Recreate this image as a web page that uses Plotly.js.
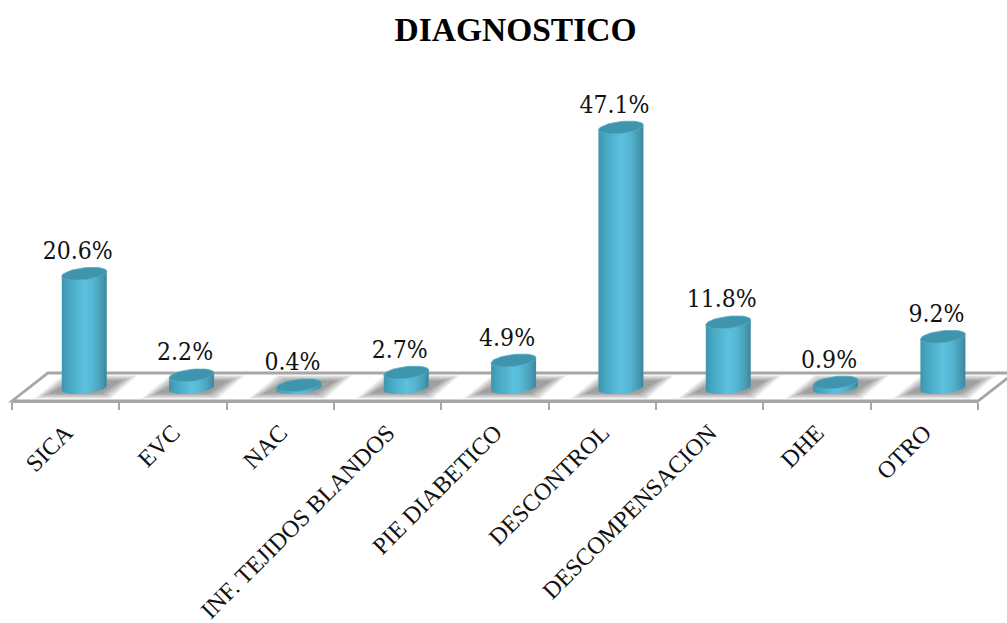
<!DOCTYPE html>
<html>
<head>
<meta charset="utf-8">
<script src="https://cdn.plot.ly/plotly-3.0.1.min.js"></script>
<style>html,body{margin:0;padding:0;background:#fff}#chart{width:1007px;height:623px}</style>
</head>
<body>
<div id="chart"></div>
<script>
// Diagnosis shares, in percent
const categories = ["SICA", "EVC", "NAC", "INF. TEJIDOS BLANDOS", "PIE DIABETICO",
                    "DESCONTROL", "DESCOMPENSACION", "DHE", "OTRO"];
const percentages = [20.6, 2.2, 0.4, 2.7, 4.9, 47.1, 11.8, 0.9, 9.2];

// Frame geometry in pixels
const W = 1007, H = 623;
const plotLeft = 12, plotRight = 978, plotTop = 60, plotBottom = 401;
const floorBackY = 373, floorDepth = 36;
const pxPerCat = (plotRight - plotLeft) / categories.length;
const pxPerUnit = 5.52;
const baseY = 387.5;                 // pixel height of value 0, mid-way across the floor
const depthShift = 18.6 / pxPerCat;  // columns stand in the middle of the floor's depth

// Cylinder geometry in pixels
const radius = 22.5, rimHalfHeight = 6, rimTilt = 0.11;
const bandCount = 23, bandOverlap = 1;
const bandWidth = 2 * radius / bandCount;

// Horizontal shading of the cylinder wall
const shadeStops = [[0, [62, 148, 172]], [0.14, [70, 166, 192]], [0.5, [92, 193, 222]],
                    [0.7, [84, 182, 210]], [0.9, [70, 153, 175]], [1, [60, 136, 158]]];

function shade(t) {
  for (let s = 1; s < shadeStops.length; s++) {
    if (t <= shadeStops[s][0]) {
      const [t0, c0] = shadeStops[s - 1], [t1, c1] = shadeStops[s];
      const f = (t - t0) / (t1 - t0);
      const rgb = c0.map((c, j) => Math.round(c + (c1[j] - c) * f));
      return `rgb(${rgb.join(",")})`;
    }
  }
  return "rgb(60,136,158)";
}

const positions = categories.map((_, i) => i);
const traces = [];

// Cylinder walls: one narrow bar per shading band, each lapping slightly over the last
for (let k = 0; k < bandCount; k++) {
  const dx = -radius + (k + 0.5) * bandWidth;
  const arc = rimHalfHeight * Math.sqrt(Math.max(0, 1 - (dx / radius) ** 2));
  const lowEdge = (rimTilt * dx - arc) / pxPerUnit;
  const extra = k < bandCount - 1 ? bandOverlap : 0;
  traces.push({
    type: "bar",
    x: positions,
    y: percentages.map(v => v + arc / pxPerUnit),
    base: percentages.map(() => lowEdge),
    width: (bandWidth + extra) / pxPerCat,
    offset: depthShift + (dx - bandWidth / 2) / pxPerCat,
    marker: { color: shade((k + 0.5) / bandCount), line: { width: 0 } },
    hoverinfo: "skip",
    showlegend: false
  });
}

// Cylinder tops
const capX = [], capY = [];
percentages.forEach((v, i) => {
  for (let a = 0; a <= 48; a++) {
    const t = a / 48 * 2 * Math.PI;
    const dx = radius * Math.cos(t);
    capX.push(i + depthShift + dx / pxPerCat);
    capY.push(v + (rimTilt * dx + rimHalfHeight * Math.sin(t)) / pxPerUnit);
  }
  capX.push(null);
  capY.push(null);
});
traces.push({
  type: "scatter", mode: "lines", x: capX, y: capY, fill: "toself",
  fillcolor: "#3f95ad", line: { color: "#57aec6", width: 0.8 },
  hoverinfo: "skip", showlegend: false
});

// Value labels above each column
traces.push({
  type: "scatter", mode: "text",
  x: positions.map(i => i + depthShift - 6.5 / pxPerCat),
  y: percentages.map(v => v + 21 / pxPerUnit),
  text: percentages.map(v => v.toFixed(1) + "%"),
  textposition: "middle center",
  textfont: { family: "DejaVu Serif Condensed, DejaVu Serif", size: 24.5, color: "#111" },
  cliponaxis: false, hoverinfo: "skip", showlegend: false
});

// Pixel helpers for the floor, which belongs to the frame and not to the data
const paperX = px => (px - plotLeft) / (plotRight - plotLeft);
const paperY = py => (plotBottom - py) / (plotBottom - plotTop);
const polygon = pts => "M" + pts.map(p => paperX(p[0]) + "," + paperY(p[1])).join("L") + "Z";

const shapes = [{
  type: "path", xref: "paper", yref: "paper", layer: "below",
  path: polygon([[plotLeft, plotBottom], [plotLeft + floorDepth, floorBackY],
                 [plotRight + floorDepth, floorBackY], [plotRight, plotBottom]]),
  fillcolor: "#ffffff", line: { color: "#a6a6a6", width: 2.8 }
}];

// Soft floor shadows, built from nested translucent parallelograms
const shadowLayers = 14;
positions.forEach(i => {
  const cx = plotLeft + (i + 0.5 + depthShift) * pxPerCat;
  for (let s = 0; s < shadowLayers; s++) {
    const inset = s * 1.3;
    const rise = s * 0.45;
    shapes.push({
      type: "path", xref: "paper", yref: "paper", layer: "below",
      path: polygon([[cx - 51 + inset, 399 - rise], [cx - 22 + inset * 0.6, 375 + rise],
                     [cx + 54 - inset, 375 + rise], [cx + 27 - inset * 0.6, 399 - rise]]),
      fillcolor: "rgba(40,40,40,0.036)", line: { width: 0 }
    });
  }
});

const boundaries = Array.from({ length: categories.length + 1 }, (_, i) => i - 0.5);
const xRange = [-0.5, categories.length - 0.5];

const layout = {
  width: W, height: H,
  margin: { l: plotLeft, r: W - plotRight, t: plotTop, b: H - plotBottom, pad: 0 },
  paper_bgcolor: "#ffffff", plot_bgcolor: "rgba(0,0,0,0)",
  showlegend: false,
  barmode: "overlay",
  title: {
    text: "<b>DIAGNOSTICO</b>",
    x: 515.5 / W, xanchor: "center", xref: "container",
    y: 1 - 29.5 / H, yanchor: "middle", yref: "container",
    font: { family: "Liberation Serif", size: 33.5, color: "#000" }
  },
  xaxis: {
    type: "linear", range: xRange, fixedrange: true,
    tickmode: "array", tickvals: positions, ticktext: categories,
    tickangle: -45, ticks: "", showgrid: false, zeroline: false, showline: false,
    tickfont: { family: "Liberation Serif", size: 24, color: "#111" },
    ticklabelstandoff: 12
  },
  xaxis2: {
    type: "linear", range: xRange, overlaying: "x", side: "bottom", anchor: "y", fixedrange: true,
    tickmode: "array", tickvals: boundaries, showticklabels: false,
    ticks: "outside", ticklen: 7, tickwidth: 2, tickcolor: "#a6a6a6",
    showline: true, linecolor: "#a6a6a6", linewidth: 2.4,
    showgrid: false, zeroline: false
  },
  yaxis: {
    range: [(baseY - plotBottom) / pxPerUnit, (baseY - plotTop) / pxPerUnit],
    visible: false, fixedrange: true, showgrid: false, zeroline: false
  },
  shapes: shapes
};

// An empty trace keeps the tick-mark axis on the page
traces.unshift({ type: "scatter", mode: "none", x: [], y: [], xaxis: "x2", yaxis: "y", hoverinfo: "skip", showlegend: false });

Plotly.newPlot("chart", traces, layout, { displayModeBar: false, responsive: false });
</script>
</body>
</html>
